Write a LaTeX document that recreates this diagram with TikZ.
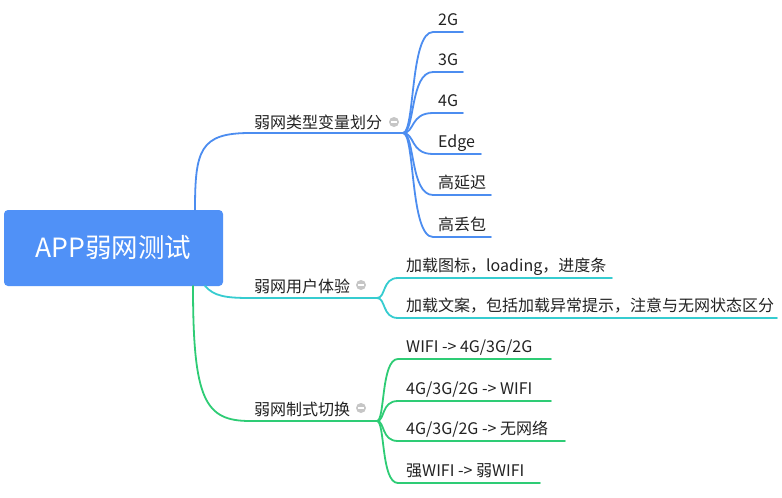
\documentclass[tikz,border=0pt]{standalone}
\usepackage{fontspec}
\setmainfont{Noto Sans CJK SC}
\definecolor{rootblue}{HTML}{5091F7}
\definecolor{lblue}{HTML}{4C8DF0}
\definecolor{lcyan}{HTML}{36CCD0}
\definecolor{lgreen}{HTML}{2ECC75}
\definecolor{txt}{HTML}{222222}
\definecolor{mgray}{HTML}{C6C6C6}
\tikzset{
  lbl/.style={anchor=base west,inner sep=0pt,text=txt,font=\fontsize{16}{19}\selectfont},
  conn/.style={line width=1.8pt,line cap=round},
  minus/.style={circle,fill=mgray,minimum size=10pt,inner sep=0pt,
    path picture={\draw[white,line width=1.5pt] ([xshift=-2.8pt]path picture bounding box.center) -- ([xshift=2.8pt]path picture bounding box.center);}},
}
\begin{document}
\begin{tikzpicture}[x=1pt,y=-1pt]
\useasboundingbox (0,0) rectangle (782,498);
\fill[white] (0,0) rectangle (782,498);
% root
\node[fill=rootblue,rounded corners=4pt,minimum width=219pt,minimum height=76pt,inner sep=0pt,text=white,font=\fontsize{26.5}{31}\selectfont] (root) at (113.5,248) {APP弱网测试};
\coordinate (rt) at (195,210);
\coordinate (rb2) at (205,286);
\coordinate (rb3) at (193,286);
% branch nodes
\node[lbl] (b1) at (254,128) {弱网类型变量划分};
\node[lbl] (b2) at (254,292) {弱网用户体验};
\node[lbl] (b3) at (254,415) {弱网制式切换};
\node[minus] (m1) at (394,122) {};
\node[minus] (m2) at (361,285) {};
\node[minus] (m3) at (361,408) {};
\coordinate (b1s) at (250,133); \coordinate (b1e) at (403,133);
\coordinate (b2s) at (250,298); \coordinate (b2e) at (377,298);
\coordinate (b3s) at (250,421); \coordinate (b3e) at (377,421);
% root to branches
\draw[conn,lblue] (rt) .. controls (195,150) and (200,133) .. (b1s) -- (b1e);
\draw[conn,lcyan] (rb2) .. controls (214,296) and (225,298) .. (b2s) -- (b2e);
\draw[conn,lgreen] (rb3) .. controls (193,400) and (205,421) .. (b3s) -- (b3e);
% branch 1 children
\foreach \n/\y/\e/\t in {c11/32/463/2G,c12/72/463/3G,c13/113/463/4G,c14/154/481/Edge,c15/195/491/高延迟,c16/237/491/高丢包}{
  \node[lbl] (\n) at (438,\y-7) {\t};
  \coordinate (\n s) at (433,\y);
  \coordinate (\n e) at (\e,\y);
  \draw[conn,lblue] (b1e) .. controls (415,133) and (410,\y) .. (\n s) -- (\n e);
}
% branch 2 children
\foreach \n/\y/\e/\t in {c21/278/612/{加载图标，loading，进度条},c22/318/777/{加载文案，包括加载异常提示，注意与无网状态区分}}{
  \node[lbl] (\n) at (406,\y-7) {\t};
  \coordinate (\n s) at (398,\y);
  \coordinate (\n e) at (\e,\y);
  \draw[conn,lcyan] (b2e) .. controls (386,298) and (382,\y) .. (\n s) -- (\n e);
}
% branch 3 children
\foreach \n/\y/\e/\t in {c31/359/551/{WIFI -> 4G/3G/2G},c32/401/551/{4G/3G/2G -> WIFI},c33/441/565/{4G/3G/2G -> 无网络},c34/483/540/{强WIFI -> 弱WIFI}}{
  \node[lbl] (\n) at (406,\y-7) {\t};
  \coordinate (\n s) at (398,\y);
  \coordinate (\n e) at (\e,\y);
  \draw[conn,lgreen] (b3e) .. controls (385,421) and (381,\y) .. (\n s) -- (\n e);
}
\end{tikzpicture}
\end{document}
